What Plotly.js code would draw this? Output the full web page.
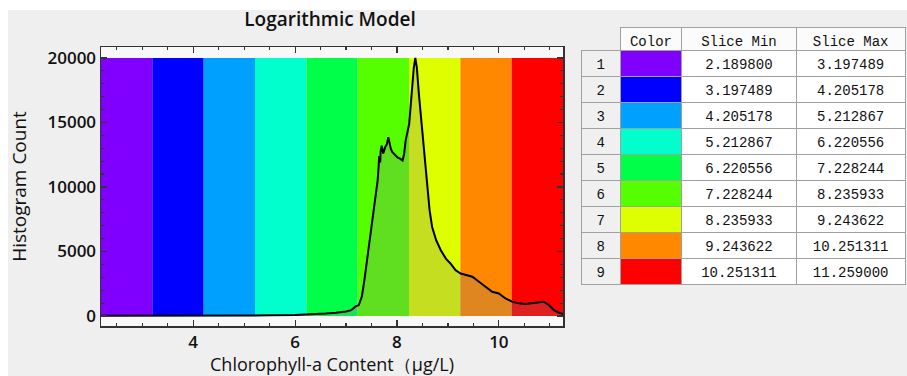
<!DOCTYPE html>
<html>
<head>
<meta charset="utf-8">
<script src="https://cdn.plot.ly/plotly-3.0.1.min.js"></script>
<style>
  html, body { margin: 0; padding: 0; background: #ffffff; }
  #bg { position: absolute; left: 8px; top: 10px; width: 899px; height: 366px; background: #efefef; }
  #chart { position: absolute; left: 0; top: 0; width: 907px; height: 376px; }
</style>
</head>
<body>
<div id="bg"></div>
<div id="chart"></div>
<script>
// ---- data ----
const sliceIndex = [1, 2, 3, 4, 5, 6, 7, 8, 9];
const sliceMin = [2.189800, 3.197489, 4.205178, 5.212867, 6.220556, 7.228244, 8.235933, 9.243622, 10.251311];
const sliceMax = [3.197489, 4.205178, 5.212867, 6.220556, 7.228244, 8.235933, 9.243622, 10.251311, 11.259000];
const sliceColors = ['#7f00ff', '#0000ff', '#00a0ff', '#00ffcc', '#00ff48', '#55ff00', '#ddff00', '#ff8800', '#ff0000'];
const bandCount = 20000;

const chlX = [2.19, 2.5, 3.0, 3.5, 4.0, 4.5, 5.0, 5.5, 6.0, 6.2, 6.4, 6.6, 6.8, 6.9, 7.0, 7.1, 7.18, 7.25,
  7.31, 7.36, 7.42, 7.49, 7.55, 7.62, 7.64, 7.65, 7.67, 7.68, 7.70, 7.73, 7.77, 7.80, 7.83, 7.86, 7.88, 7.91, 7.94, 7.97, 8.01, 8.06, 8.11, 8.14,
  8.17, 8.24, 8.29, 8.33, 8.36, 8.39, 8.43, 8.49, 8.54, 8.59, 8.64, 8.69, 8.77, 8.86, 8.96, 9.05, 9.15,
  9.25, 9.38, 9.48, 9.61, 9.74, 9.87, 10.0, 10.13, 10.26, 10.39, 10.52, 10.65, 10.78, 10.88, 10.98, 11.08, 11.18, 11.259];
const chlCount = [20, 20, 20, 25, 30, 30, 40, 50, 80, 110, 150, 200, 260, 300, 350, 450, 720, 850,
  1500, 2780, 4560, 6380, 8440, 10500, 11600, 12400, 11900, 12800, 13200, 12600, 13100, 13300, 13850, 13200, 12950, 12700, 12560, 12500, 12300, 12200, 12050, 12560,
  13600, 14900, 17450, 19250, 20000, 19250, 17200, 14600, 12300, 10000, 8200, 6900, 5870, 5100, 4450, 4070, 3550,
  3290, 3170, 3040, 2650, 2270, 1880, 1750, 1360, 1110, 980, 930, 980, 1030, 1110, 850, 460, 250, 150];

// ---- traces ----
const bandX = sliceMin.map((m, i) => (m + sliceMax[i]) / 2);
const bandW = sliceMin.map((m, i) => sliceMax[i] - m);

const bands = {
  type: 'bar', x: bandX, y: sliceMin.map(() => bandCount), width: bandW,
  marker: { color: sliceColors, line: { width: 0 } },
  hoverinfo: 'skip', showlegend: false, xaxis: 'x', yaxis: 'y'
};
const curve = {
  type: 'scatter', mode: 'lines', x: chlX, y: chlCount,
  line: { color: '#000000', width: 2 },
  fill: 'tozeroy', fillcolor: 'rgba(128,128,128,0.25)',
  showlegend: false, xaxis: 'x', yaxis: 'y'
};

const W = 907, H = 376;
const gridLine = '#a0a0a0';
const table = {
  type: 'table',
  domain: { x: [581 / W, 905 / W], y: [1 - 300 / H, 1 - 27 / H] },
  columnwidth: [39, 61, 114, 108],
  header: {
    values: ['', 'Color', 'Slice Min', 'Slice Max'],
    height: 23,
    align: 'center',
    fill: { color: ['#efefef', '#fbfbfb', '#fbfbfb', '#fbfbfb'] },
    line: { color: ['rgba(0,0,0,0)', gridLine, gridLine, gridLine], width: 1 },
    font: { family: 'Liberation Mono, monospace', size: 14, color: '#111' }
  },
  cells: {
    values: [sliceIndex, sliceIndex.map(() => ''), sliceMin.map(v => v.toFixed(6)), sliceMax.map(v => v.toFixed(6))],
    height: 26,
    align: 'center',
    fill: { color: [sliceIndex.map(() => '#f0f0f0'), sliceColors, sliceIndex.map(() => '#ffffff'), sliceIndex.map(() => '#ffffff')] },
    line: { color: gridLine, width: 1 },
    font: { family: 'Liberation Mono, monospace', size: 14, color: '#111' }
  }
};

const tickFont = { family: 'Open Sans, sans-serif', size: 17, color: '#111', weight: 600 };
const layout = {
  width: W, height: H,
  margin: { l: 0, r: 0, t: 0, b: 0 },
  paper_bgcolor: 'rgba(0,0,0,0)',
  plot_bgcolor: '#f8f8f8',
  barmode: 'overlay',
  title: { text: 'Logarithmic Model', x: 330 / W, xanchor: 'center', y: 1 - 19 / H, yanchor: 'middle',
           font: { family: 'Open Sans, sans-serif', size: 19, color: '#111', weight: 600 } },
  xaxis: {
    domain: [101 / W, 563 / W],
    range: [2.1898, 11.259], tick0: 0, dtick: 2,
    ticks: 'inside', ticklen: 6, tickwidth: 1.2, tickcolor: '#333',
    minor: { dtick: 0.5, ticks: 'inside', ticklen: 3, tickcolor: '#333' },
    showline: true, linecolor: '#333', linewidth: 1.5, mirror: 'allticks',
    showgrid: false, zeroline: false, tickfont: tickFont,
    title: { text: 'Chlorophyll-a Content（μg/L)', standoff: 6, font: { family: 'Open Sans, sans-serif', size: 18, color: '#111' } }
  },
  yaxis: {
    domain: [1 - 326 / H, 1 - 47 / H],
    range: [-775, 20850], tick0: 0, dtick: 5000, tickformat: 'd',
    ticks: 'inside', ticklen: 6, tickwidth: 1.2, tickcolor: '#333',
    minor: { dtick: 1000, ticks: 'inside', ticklen: 3, tickcolor: '#333' },
    showline: true, linecolor: '#333', linewidth: 1.5, mirror: 'allticks',
    showgrid: false, zeroline: false, tickfont: tickFont,
    title: { text: 'Histogram Count', standoff: 16, font: { family: 'Open Sans, sans-serif', size: 19, color: '#111' } }
  }
};

Plotly.newPlot('chart', [bands, curve, table], layout, { displayModeBar: false, staticPlot: true });
</script>
</body>
</html>
